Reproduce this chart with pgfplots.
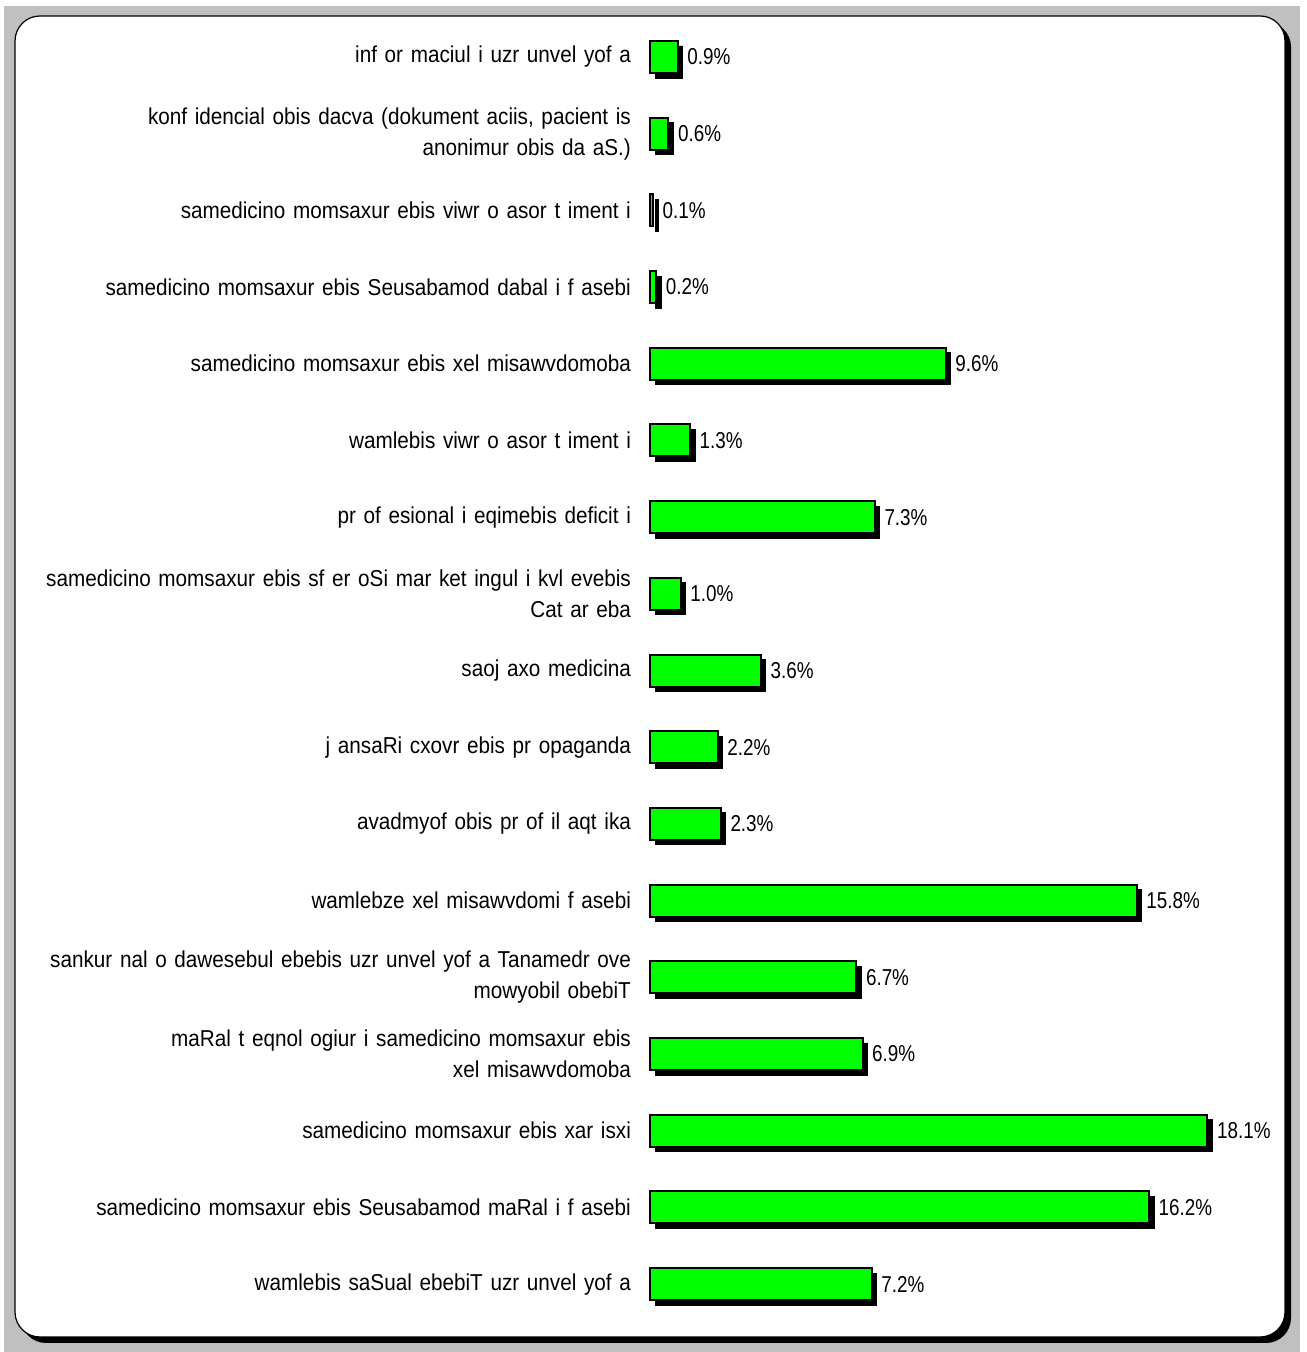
\documentclass[border=0pt]{standalone}
\usepackage{pgfplots}
\pgfplotsset{compat=1.18}
\usepackage{fontspec}
\setmainfont{Liberation Sans}
\newfontfamily\labelfont[FakeStretch=0.9]{Liberation Sans}
\newfontfamily\valuefont[FakeStretch=0.82]{Liberation Sans}
\definecolor{bggray}{HTML}{C0C0C0}
\definecolor{bargreen}{HTML}{00FF00}
\begin{document}
\begin{tikzpicture}[x=1pt,y=1pt]
\useasboundingbox (0,0) rectangle (653,676);
\fill[white] (0,0) rectangle (653,676);
\fill[bggray] (2,0) rectangle (650,673);
\fill[black, rounded corners=12.5pt] (10.5,4.5) rectangle (645.5,665);
\filldraw[fill=white, draw=black, line width=0.6pt, rounded corners=12.5pt] (7.5,7.5) rectangle (642.5,668);
\begin{axis}[
  at={(325pt,14.8pt)}, anchor=south west,
  scale only axis, width=308pt, height=651.9pt,
  xmin=0, xmax=20, ymin=-0.5, ymax=16.5, y dir=reverse,
  hide x axis, axis line style={draw=none}, ytick style={draw=none},
  ytick={0,...,16},
  /pgf/number format/assume math mode=true,
  yticklabels={
    {inf or maciul i uzr unvel yof a},
    {konf idencial obis dacva (dokument aciis, pacient is\\anonimur obis da aS.)},
    {samedicino momsaxur ebis viwr o asor t iment i},
    {samedicino momsaxur ebis Seusabamod dabal i f asebi},
    {samedicino momsaxur ebis xel misawvdomoba},
    {wamlebis viwr o asor t iment i},
    {pr of esional i eqimebis deficit i},
    {samedicino momsaxur ebis sf er oSi mar ket ingul i kvl evebis\\Cat ar eba},
    {saoj axo medicina},
    {j ansaRi cxovr ebis pr opaganda},
    {avadmyof obis pr of il aqt ika},
    {wamlebze xel misawvdomi f asebi},
    {sankur nal o dawesebul ebebis uzr unvel yof a Tanamedr ove\\mowyobil obebiT},
    {maRal t eqnol ogiur i samedicino momsaxur ebis\\xel misawvdomoba},
    {samedicino momsaxur ebis xar isxi},
    {samedicino momsaxur ebis Seusabamod maRal i f asebi},
    {wamlebis saSual ebebiT uzr unvel yof a}},
  yticklabel style={font=\labelfont\fontsize{11.5}{15.5}\selectfont, text width=305pt, align=right, xshift=-6pt},
  clip=false,
]
\addplot[xbar, bar width=16pt, bar shift=0pt, fill=black, draw=black, xshift=2.5pt, yshift=-2.5pt]
  coordinates {(0.9,0) (0.6,1) (0.1,2) (0.2,3) (9.6,4) (1.3,5) (7.3,6) (1.0,7) (3.6,8) (2.2,9) (2.3,10) (15.8,11) (6.7,12) (6.9,13) (18.1,14) (16.2,15) (7.2,16)};
\addplot[xbar, bar width=16pt, bar shift=0pt, fill=bargreen, draw=black, line width=1pt,
  nodes near coords={\pgfmathprintnumber[fixed,fixed zerofill,precision=1,assume math mode=true]{\pgfplotspointmeta}\%},
  every node near coord/.append style={font=\valuefont\fontsize{11.5}{13}\selectfont, anchor=west, xshift=1pt, text=black}]
  coordinates {(0.9,0) (0.6,1) (0.1,2) (0.2,3) (9.6,4) (1.3,5) (7.3,6) (1.0,7) (3.6,8) (2.2,9) (2.3,10) (15.8,11) (6.7,12) (6.9,13) (18.1,14) (16.2,15) (7.2,16)};
\end{axis}
\end{tikzpicture}
\end{document}
